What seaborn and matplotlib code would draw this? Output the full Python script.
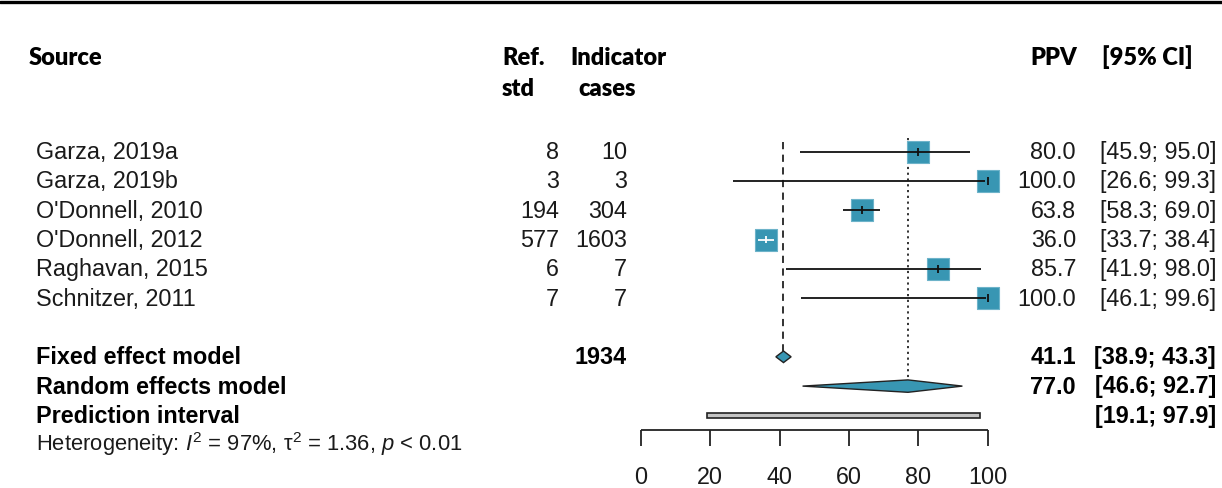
import matplotlib
matplotlib.use("Agg")
import matplotlib.pyplot as plt
import seaborn as sns
import pandas as pd
from matplotlib.patches import Polygon, Rectangle

# ---- data -------------------------------------------------------------
studies = ["Garza, 2019a", "Garza, 2019b", "O'Donnell, 2010",
           "O'Donnell, 2012", "Raghavan, 2015", "Schnitzer, 2011"]
ref_std = [8, 3, 194, 577, 6, 7]
cases = [10, 3, 304, 1603, 7, 7]
ppv = [80.0, 100.0, 63.8, 36.0, 85.7, 100.0]
ci_low = [45.9, 26.6, 58.3, 33.7, 41.9, 46.1]
ci_high = [95.0, 99.3, 69.0, 38.4, 98.0, 99.6]

fixed_est, fixed_low, fixed_high = 41.1, 38.9, 43.3
random_est, random_low, random_high = 77.0, 46.6, 92.7
pred_low, pred_high = 19.1, 97.9
total_cases = 1934
axis_ticks = [0, 20, 40, 60, 80, 100]
heterogeneity = r"Heterogeneity: $I^2$ = 97%, $\mathrm{\tau}^2$ = 1.36, $p$ < 0.01"

# ---- style ------------------------------------------------------------
sns.set_theme(style="white")
plt.rcParams["font.family"] = ["Liberation Sans", "DejaVu Sans"]
plt.rcParams["mathtext.fontset"] = "custom"
plt.rcParams["mathtext.rm"] = "Liberation Sans"
plt.rcParams["mathtext.it"] = "Liberation Sans:italic"
plt.rcParams["mathtext.bf"] = "Liberation Sans:bold"

TEAL = "#3896b3"
TEAL_EDGE = "#6db3c9"
INK = "#1a1a1a"
ROW_FS = 16.8
HEAD_FS = 17

W, H = 1222, 488
fig = plt.figure(figsize=(W / 100, H / 100), dpi=100)

# text layer in pixel coordinates
tx = fig.add_axes([0, 0, 1, 1])
tx.set_xlim(0, W)
tx.set_ylim(H, 0)
tx.axis("off")

# forest layer: x in PPV units, y shares the pixel rows
X0, SCALE = 641.0, 3.467
ax = fig.add_axes([0, 0, 1, 1])
ax.patch.set_alpha(0)

# row layout
ROW0, STEP = 151.7, 29.3
study_y = [ROW0 + STEP * i for i in range(len(studies))]
fixed_y = ROW0 + STEP * 7
random_y = ROW0 + STEP * 8
pred_y = ROW0 + STEP * 9
het_y = ROW0 + STEP * 10
BASE = 7.4  # baseline offset below row centre

# top rule
tx.axhline(1.5, color="black", lw=2.4)

# column headers
head = dict(fontsize=HEAD_FS, fontweight="heavy", family="Lato", color="black")
tx.text(29, 65, "Source", **head)
tx.text(502, 65, "Ref.", **head)
tx.text(502, 96, "std", **head)
tx.text(570, 65, "Indicator", **head)
tx.text(578, 96, "cases", **head)
tx.text(1030, 65, "PPV", **head)
tx.text(1102, 65, "[95% CI]", **head)

# study rows
for y, name, r, c, p, lo, hi in zip(study_y, studies, ref_std, cases, ppv, ci_low, ci_high):
    b = y + BASE
    tx.text(36, b, name, fontsize=ROW_FS, color=INK)
    tx.text(559, b, f"{r}", fontsize=ROW_FS, color=INK, ha="right")
    tx.text(627, b, f"{c}", fontsize=ROW_FS, color=INK, ha="right")
    tx.text(1076, b, f"{p:.1f}", fontsize=ROW_FS, color=INK, ha="right")
    tx.text(1216, b, f"[{lo:.1f}; {hi:.1f}]", fontsize=ROW_FS, color=INK, ha="right")

# summary rows
bold = dict(fontsize=ROW_FS, fontweight="bold", color="black")
tx.text(36, fixed_y + BASE, "Fixed effect model", **bold)
tx.text(627, fixed_y + BASE, f"{total_cases}", ha="right", **bold)
tx.text(1076, fixed_y + BASE, f"{fixed_est:.1f}", ha="right", **bold)
tx.text(1216, fixed_y + BASE, f"[{fixed_low:.1f}; {fixed_high:.1f}]", ha="right", **bold)
tx.text(36, random_y + BASE, "Random effects model", **bold)
tx.text(1076, random_y + BASE, f"{random_est:.1f}", ha="right", **bold)
tx.text(1216, random_y + BASE, f"[{random_low:.1f}; {random_high:.1f}]", ha="right", **bold)
tx.text(36, pred_y + BASE, "Prediction interval", **bold)
tx.text(1216, pred_y + BASE, f"[{pred_low:.1f}; {pred_high:.1f}]", ha="right", **bold)
tx.text(36, het_y + 6.5, heterogeneity, fontsize=15.8, color=INK)

# study squares
df = pd.DataFrame({"ppv": ppv, "y": study_y})
sns.scatterplot(data=df, x="ppv", y="y", marker="s", s=255, color=TEAL,
                edgecolor=TEAL_EDGE, linewidth=0.8, ax=ax, legend=False, zorder=3)
ax.set_xlim((0 - X0) / SCALE, (W - X0) / SCALE)
ax.set_ylim(H, 0)
ax.axis("off")

# reference lines for the pooled estimates
ax.vlines(fixed_est, 142, fixed_y - 6, color="#222222", lw=1.3,
          linestyles=(0, (4, 3)), zorder=1)
ax.vlines(random_est, 138, random_y - 6, color="#222222", lw=1.3,
          linestyles=(0, (1.2, 2)), zorder=1)

half_sq = 11.3 / SCALE
for y, p, lo, hi in zip(study_y, ppv, ci_low, ci_high):
    inside = lo > p - half_sq and hi < p + half_sq
    col = "white" if inside else "#111111"
    ax.hlines(y, lo, hi, color=col, lw=1.3, zorder=4)
    ax.vlines(p, y - 3.8, y + 3.8, color=col, lw=1.3, zorder=4)

# pooled diamonds
ax.add_patch(Polygon([(fixed_low, fixed_y), (fixed_est, fixed_y - 5.8),
                      (fixed_high, fixed_y), (fixed_est, fixed_y + 5.8)],
                     closed=True, facecolor=TEAL, edgecolor="#222222", lw=1.0, zorder=3))
ax.add_patch(Polygon([(random_low, random_y), (random_est, random_y - 6.2),
                      (random_high, random_y), (random_est, random_y + 6.2)],
                     closed=True, facecolor=TEAL, edgecolor="#222222", lw=1.0, zorder=3))

# prediction interval bar
ax.add_patch(Rectangle((pred_low, pred_y - 2.6), pred_high - pred_low, 5.2,
                       facecolor="#c4c4c4", edgecolor="#222222", lw=1.2, zorder=3))

# x axis drawn in R style
AXIS_Y = 430
ax.hlines(AXIS_Y, axis_ticks[0], axis_ticks[-1], color="#222222", lw=1.3)
ax.vlines(axis_ticks, AXIS_Y, AXIS_Y + 16, color="#222222", lw=1.3)
for t in axis_ticks:
    ax.text(t, 477, f"{t}", fontsize=ROW_FS, color=INK, ha="center", va="center")

fig.savefig("out.png", dpi=100)
